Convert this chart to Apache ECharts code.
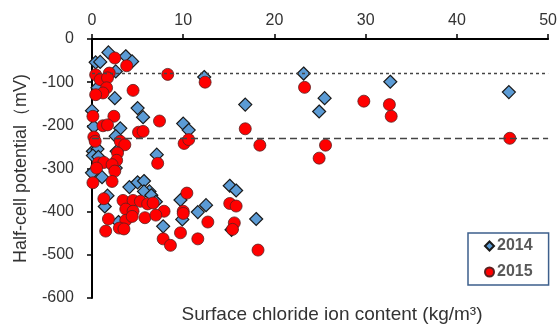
<!DOCTYPE html>
<html>
<head>
<meta charset="utf-8">
<script src="https://cdn.jsdelivr.net/npm/echarts@6/dist/echarts.min.js"></script>
<style>
html, body { margin: 0; padding: 0; background: #fff; }
#chart { width: 560px; height: 329px; }
</style>
</head>
<body>
<div id="chart"></div>
<script>
// x = surface chloride (kg/m3), y = half-cell potential (mV)
var data2014 = [
    [1.8, -31], [3.7, -40], [4.4, -52], [0.4, -54], [0.9, -53], [2.6, -75], [0.6, -113], [2.5, -137],
    [5.0, -160], [5.6, -181], [0.0, -166], [0.2, -203], [3.1, -207], [2.6, -225], [10.0, -196], [10.6, -211],
    [12.3, -88], [16.8, -152], [23.2, -80], [25.5, -137], [24.9, -168], [32.7, -99], [45.7, -123],
    [0.1, -260], [0.6, -255], [2.7, -260], [0.1, -270], [0.7, -273], [7.1, -268], [0.0, -310], [1.1, -320],
    [2.6, -299], [4.1, -343], [5.0, -332], [5.7, -329], [6.3, -353], [5.7, -353], [6.5, -362], [7.0, -377],
    [1.7, -363], [1.4, -388], [2.9, -424], [7.8, -434], [9.7, -373], [9.9, -418], [11.6, -401], [12.5, -385],
    [15.1, -340], [15.8, -351], [15.3, -442], [18.0, -417]
];
var data2015 = [
    [2.5, -44], [3.8, -62], [0.4, -83], [1.9, -79], [0.9, -94], [1.7, -90], [1.6, -113], [1.2, -125],
    [0.4, -129], [4.5, -119], [8.3, -82], [12.4, -100], [0.1, -179], [2.4, -179], [1.2, -201], [1.7, -199],
    [7.4, -190], [5.1, -216], [5.6, -214], [0.2, -227], [0.35, -237], [3.1, -237], [3.6, -245], [10.1, -242],
    [10.6, -233], [16.8, -208], [18.4, -246], [23.3, -112], [25.6, -246], [24.9, -276], [29.8, -144],
    [32.6, -152], [32.8, -179], [45.8, -230],
    [2.8, -264], [2.7, -281], [7.2, -288], [0.7, -287], [1.3, -286], [0.5, -299], [2.2, -291], [2.5, -306],
    [2.2, -330], [0.1, -333], [1.3, -370], [3.4, -374], [4.5, -374], [5.3, -376], [6.1, -382], [6.7, -380],
    [7.9, -399], [3.7, -394], [4.5, -399], [3.7, -420], [4.4, -411], [5.8, -414], [7.0, -408], [1.8, -417],
    [1.5, -445], [3.0, -438], [3.5, -440], [7.8, -463], [8.6, -478], [9.7, -449], [11.6, -463], [10.0, -399],
    [10.0, -404], [10.4, -357], [12.7, -424], [15.1, -381], [15.8, -387], [15.6, -426], [15.4, -441], [18.2, -489]
];
var xTicks = { min: 0, max: 50, interval: 10 };
var yTicks = { min: -600, max: 0, interval: 100 };
var refLines = [-80, -230];

var chart = echarts.init(document.getElementById('chart'));
var fontName = 'Liberation Sans, Arial, sans-serif';

var option = {
    animation: false,
    grid: { left: 92, right: 10, top: 39, bottom: 31, containLabel: false },
    legend: {
        orient: 'vertical',
        left: 468,
        top: 233,
        padding: [5, 16, 5, 16],
        itemGap: 10,
        itemWidth: 9,
        itemHeight: 9,
        backgroundColor: '#fff',
        borderColor: '#3d5f8c',
        borderWidth: 1.5,
        textStyle: { color: '#595959', fontSize: 16, fontWeight: 'bold', fontFamily: fontName, padding: [0, 0, 0, -2] },
        data: [
            { name: '2014', icon: 'diamond' },
            { name: '2015', icon: 'circle' }
        ]
    },
    graphic: [{
        type: 'text',
        style: {
            text: 'Surface chloride ion content (kg/m³)',
            x: 332, y: 315,
            textAlign: 'center',
            textVerticalAlign: 'middle',
            fill: '#333',
            font: '19px Liberation Sans, Arial, sans-serif'
        }
    }],
    xAxis: {
        type: 'value',
        position: 'top',
        min: xTicks.min, max: xTicks.max, interval: xTicks.interval,
        axisLine: { lineStyle: { color: '#000', width: 2 } },
        axisTick: { show: true, inside: false, length: 5, lineStyle: { color: '#000', width: 1.5 } },
        axisLabel: { color: '#333', fontSize: 16, fontFamily: fontName, margin: 10 },
        splitLine: { show: false }
    },
    yAxis: {
        type: 'value',
        min: yTicks.min, max: yTicks.max, interval: yTicks.interval,
        name: 'Half-cell potential（mV)',
        nameLocation: 'middle',
        nameGap: 62,
        nameTextStyle: { color: '#333', fontSize: 18, fontFamily: fontName },
        axisLine: { show: true, lineStyle: { color: '#000', width: 2 } },
        axisTick: { show: true, inside: false, length: 5, lineStyle: { color: '#000', width: 1.5 } },
        axisLabel: { color: '#333', fontSize: 16, fontFamily: fontName, margin: 18 },
        splitLine: { show: false }
    },
    series: [
        {
            name: '2014',
            type: 'scatter',
            symbol: 'diamond',
            symbolSize: 13,
            clip: false,
            itemStyle: { color: '#5b9bd5', borderColor: '#1a1a1a', borderWidth: 1.2, opacity: 1 },
            data: data2014,
            markLine: {
                silent: true,
                symbol: 'none',
                label: { show: false },
                data: [
                    { yAxis: refLines[0], lineStyle: { type: [3, 3], color: '#444', width: 1.3 } },
                    { yAxis: refLines[1], lineStyle: { type: [7, 4], color: '#444', width: 1.3 } }
                ]
            },
            z: 2
        },
        {
            name: '2015',
            type: 'scatter',
            symbol: 'circle',
            symbolSize: 12,
            clip: false,
            itemStyle: { color: '#ff0000', borderColor: '#5a2020', borderWidth: 0.8, opacity: 1 },
            data: data2015,
            z: 3
        }
    ]
};
chart.setOption(option, true);
</script>
</body>
</html>
